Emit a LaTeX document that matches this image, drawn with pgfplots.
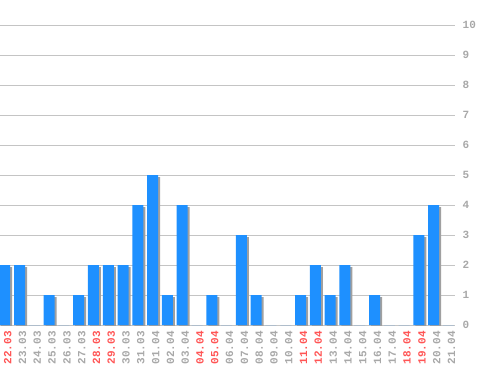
\documentclass[border=0pt]{standalone}
\usepackage{pgfplots}
\pgfplotsset{compat=1.18}
\usepackage{fontspec}
\setmainfont{Liberation Mono}
\definecolor{barblue}{HTML}{1E90FF}
\definecolor{shadowgray}{HTML}{A0A0A0}
\definecolor{gridgray}{HTML}{C4C4C4}
\definecolor{labgray}{HTML}{A8A8A8}
\definecolor{labred}{HTML}{FF5555}
\newcommand{\wk}[1]{\textcolor{labred}{#1}}
\begin{document}
\begin{tikzpicture}
\path[use as bounding box] (0,0) rectangle (498pt,370pt);
\begin{axis}[
  at={(0pt,45pt)}, anchor=south west,
  scale only axis, width=455pt, height=300pt,
  xmin=-0.32, xmax=30.44, ymin=0, ymax=10,
  axis line style={draw=none},
  major tick length=0pt,
  ytick={0,1,...,10},
  ymajorgrids, grid style={gridgray, line width=0.8pt},
  yticklabel pos=right,
  yticklabel style={font=\fontsize{11}{11}\selectfont\bfseries, text=labgray, anchor=west, inner sep=0pt, xshift=7.5pt},
  /pgf/number format/assume math mode=true,
  xtick={0,...,30},
  xticklabels={\wk{22.03},23.03,24.03,25.03,26.03,27.03,\wk{28.03},\wk{29.03},30.03,31.03,01.04,02.04,03.04,\wk{04.04},\wk{05.04},06.04,07.04,08.04,09.04,10.04,\wk{11.04},\wk{12.04},13.04,14.04,15.04,16.04,17.04,\wk{18.04},\wk{19.04},20.04,21.04},
  xticklabel style={font=\fontsize{11}{11}\selectfont\bfseries, text=labgray, inner sep=0pt, xshift=3pt, yshift=-6pt, rotate=90, anchor=east},
  ybar, bar width=11pt,
]
\addplot[fill=shadowgray, draw=none, bar shift=2pt, yshift=-2pt] coordinates {
(0,2) (1,2) (2,0) (3,1) (4,0) (5,1) (6,2) (7,2) (8,2) (9,4) (10,5) (11,1) (12,4) (13,0) (14,1) (15,0)
(16,3) (17,1) (18,0) (19,0) (20,1) (21,2) (22,1) (23,2) (24,0) (25,1) (26,0) (27,0) (28,3) (29,4) (30,0)};
\addplot[fill=barblue, draw=none, bar shift=0pt] coordinates {
(0,2) (1,2) (2,0) (3,1) (4,0) (5,1) (6,2) (7,2) (8,2) (9,4) (10,5) (11,1) (12,4) (13,0) (14,1) (15,0)
(16,3) (17,1) (18,0) (19,0) (20,1) (21,2) (22,1) (23,2) (24,0) (25,1) (26,0) (27,0) (28,3) (29,4) (30,0)};
\end{axis}
\end{tikzpicture}
\end{document}
